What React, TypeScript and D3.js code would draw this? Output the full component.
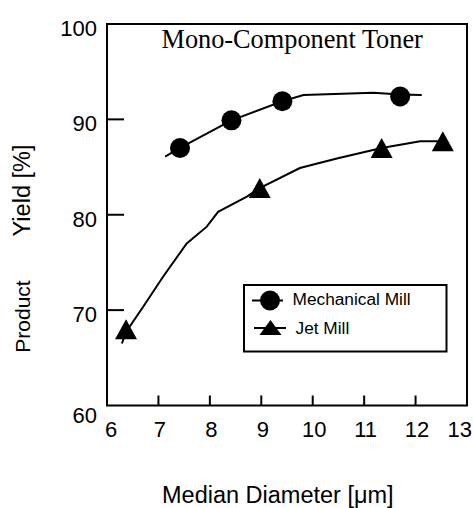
import React from "react";
import * as d3 from "d3";

// axis ticks
const xTicks = [6, 7, 8, 9, 10, 11, 12, 13];
const yTicks = [60, 70, 80, 90, 100];

// Mechanical Mill: measured points and the drawn curve
const mechMarkerX = [7.42, 8.42, 9.41, 11.7];
const mechMarkerY = [87.0, 89.9, 91.9, 92.4];
const mechCurveX = [7.13, 7.42, 8.42, 9.41, 9.82, 11.18, 11.7, 12.12];
const mechCurveY = [86.1, 87.0, 89.9, 91.9, 92.55, 92.8, 92.6, 92.55];

// Jet Mill: measured points and the drawn curve
const jetMarkerX = [6.37, 8.97, 11.34, 12.53];
const jetMarkerY = [68.0, 82.8, 87.0, 87.7];
const jetCurveX = [6.29, 6.37, 6.71, 7.09, 7.55, 7.94, 8.16, 8.72, 8.97, 9.75, 10.47, 11.34, 12.09, 12.53];
const jetCurveY = [66.5, 67.7, 70.4, 73.5, 77.0, 78.75, 80.3, 81.9, 82.8, 84.9, 85.9, 87.0, 87.7, 87.7];

const W = 473;
const H = 508;
const left = 107;
const right = 467;
const top = 24;
const bottom = 405.5;

const sans = "'Liberation Sans', Arial, Helvetica, sans-serif";
const serif = "'Liberation Serif', 'Times New Roman', serif";

const x = d3.scaleLinear().domain([6, 13]).range([left, right]);
const y = d3.scaleLinear().domain([60, 100]).range([bottom, top]);

const line = d3
  .line<[number, number]>()
  .x((d) => x(d[0]))
  .y((d) => y(d[1]));

const zip = (a: number[], b: number[]) => a.map((v, i) => [v, b[i]] as [number, number]);

// up-pointing triangle centred at mid-height
const tri = (w: number, h: number) =>
  `M0,${-h / 2}L${w / 2},${h / 2}L${-w / 2},${h / 2}Z`;

export default function App() {
  return (
    <svg
      width={W}
      height={H}
      style={{ position: "absolute", left: 0, top: 0, background: "#fff" }}
    >
      {/* frame */}
      <rect
        x={left}
        y={top}
        width={right - left}
        height={bottom - top}
        fill="none"
        stroke="#000"
        strokeWidth={2}
      />

      {/* y ticks + labels */}
      {yTicks.map((t) => (
        <g key={"y" + t}>
          {t !== 60 && t !== 100 && (
            <line x1={left} x2={left + 17} y1={y(t)} y2={y(t)} stroke="#000" strokeWidth={2} />
          )}
          <text
            x={97}
            y={y(t) + (t === 60 ? 17 : 12)}
            textAnchor="end"
            fontFamily={sans}
            fontSize={22}
          >
            {t}
          </text>
        </g>
      ))}

      {/* x ticks + labels */}
      {xTicks.map((t) => (
        <g key={"x" + t}>
          {t !== 6 && t !== 13 && (
            <line x1={x(t)} x2={x(t)} y1={bottom} y2={bottom - 10} stroke="#000" strokeWidth={2} />
          )}
          <text
            x={t === 13 ? W - 1 : x(t) + (t === 6 ? 4 : 1.5)}
            y={437}
            textAnchor={t === 13 ? "end" : "middle"}
            fontFamily={sans}
            fontSize={22}
          >
            {t}
          </text>
        </g>
      ))}

      {/* curves */}
      <path d={line(zip(mechCurveX, mechCurveY)) || ""} fill="none" stroke="#000" strokeWidth={2} />
      <path d={line(zip(jetCurveX, jetCurveY)) || ""} fill="none" stroke="#000" strokeWidth={2} />

      {/* markers */}
      {mechMarkerX.map((v, i) => (
        <circle key={"m" + i} cx={x(v)} cy={y(mechMarkerY[i])} r={10} fill="#000" />
      ))}
      {jetMarkerX.map((v, i) => (
        <path
          key={"j" + i}
          d={tri(22, 20)}
          transform={`translate(${x(v)},${y(jetMarkerY[i])})`}
          fill="#000"
        />
      ))}

      {/* title */}
      <text x={161.5} y={48} fontFamily={serif} fontSize={26.3}>
        Mono-Component Toner
      </text>

      {/* legend */}
      <g>
        <rect x={244} y={285} width={202.5} height={66.5} fill="#fff" stroke="#000" strokeWidth={2} />
        <line x1={252} x2={283} y1={300.5} y2={300.5} stroke="#000" strokeWidth={2} />
        <circle cx={270} cy={300.5} r={10} fill="#000" />
        <text x={292.5} y={305} fontFamily={sans} fontSize={17.3}>
          Mechanical Mill
        </text>
        <line x1={254} x2={286} y1={328} y2={328} stroke="#000" strokeWidth={2} />
        <path d={tri(22, 15)} transform="translate(270.5,327.5)" fill="#000" />
        <text x={295.5} y={333.5} fontFamily={sans} fontSize={17.3}>
          Jet Mill
        </text>
      </g>

      {/* axis titles */}
      <text x={162} y={503} fontFamily={sans} fontSize={23.5}>
        Median Diameter [μm]
      </text>
      <text
        transform="translate(30,316.5) rotate(-90)"
        textAnchor="middle"
        fontFamily={sans}
        fontSize={21}
      >
        Product
      </text>
      <text
        transform="translate(30,190.5) rotate(-90)"
        textAnchor="middle"
        fontFamily={sans}
        fontSize={23.5}
      >
        Yield [%]
      </text>
    </svg>
  );
}
